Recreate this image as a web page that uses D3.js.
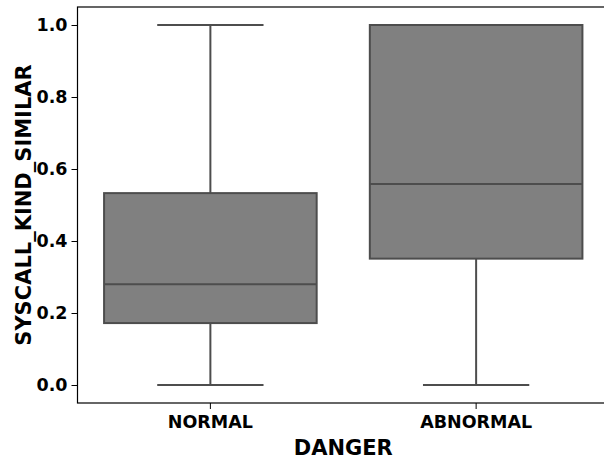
<!DOCTYPE html>
<html><head><meta charset="utf-8">
<script src="https://cdn.jsdelivr.net/npm/d3@7"></script>
<style>body{margin:0;background:#fff}svg{display:block}text{font-family:"DejaVu Sans",sans-serif;font-weight:bold}</style>
</head><body>
<script>
const categories = ["NORMAL", "ABNORMAL"];
const whiskerLow = [0.0, 0.0];
const q1 = [0.172, 0.351];
const median = [0.280, 0.558];
const q3 = [0.533, 1.0];
const whiskerHigh = [1.0, 1.0];
const yTicks = [0.0, 0.2, 0.4, 0.6, 0.8, 1.0];

const W = 604, H = 459;
const m = {left: 77.5, top: 7, right: 609, bottom: 403};
const svg = d3.select("body").append("svg").attr("width", W).attr("height", H);

const x = d3.scaleBand().domain(categories).range([m.left, m.right]).paddingInner(0).paddingOuter(0);
const y = d3.scaleLinear().domain([-0.05, 1.05]).range([m.bottom, m.top]);

const boxW = x.bandwidth() * 0.8;
const lineC = "#4d4d4d";
const data = categories.map((c, i) => ({c, lo: whiskerLow[i], q1: q1[i], med: median[i], q3: q3[i], hi: whiskerHigh[i]}));

const g = svg.append("g");
data.forEach(d => {
  const cx = x(d.c) + x.bandwidth() / 2;
  g.append("line").attr("x1", cx).attr("x2", cx).attr("y1", y(d.lo)).attr("y2", y(d.q1)).attr("stroke", lineC).attr("stroke-width", 2);
  g.append("line").attr("x1", cx).attr("x2", cx).attr("y1", y(d.q3)).attr("y2", y(d.hi)).attr("stroke", lineC).attr("stroke-width", 2);
  [d.lo, d.hi].forEach(v => {
    g.append("line").attr("x1", cx - boxW / 4).attr("x2", cx + boxW / 4).attr("y1", y(v)).attr("y2", y(v)).attr("stroke", lineC).attr("stroke-width", 2);
  });
  g.append("rect").attr("x", cx - boxW / 2).attr("width", boxW)
    .attr("y", y(d.q3)).attr("height", y(d.q1) - y(d.q3))
    .attr("fill", "#808080").attr("stroke", lineC).attr("stroke-width", 2);
  g.append("line").attr("x1", cx - boxW / 2).attr("x2", cx + boxW / 2).attr("y1", y(d.med)).attr("y2", y(d.med)).attr("stroke", lineC).attr("stroke-width", 2);
});

svg.append("rect").attr("x", m.left).attr("y", m.top).attr("width", m.right - m.left).attr("height", m.bottom - m.top)
  .attr("fill", "none").attr("stroke", "#000").attr("stroke-width", 1.2);

const ya = svg.append("g").attr("transform", `translate(${m.left},0)`)
  .call(d3.axisLeft(y).tickValues(yTicks).tickFormat(d3.format(".1f")).tickSize(6).tickPadding(4));
ya.select(".domain").remove();
ya.selectAll("text").style("font-size", "17.5px").attr("fill", "#000").style("font-family", "DejaVu Sans").style("font-weight", "bold");
ya.selectAll("line").attr("stroke", "#000");

const xa = svg.append("g").attr("transform", `translate(0,${m.bottom})`)
  .call(d3.axisBottom(x).tickSize(6).tickPadding(7));
xa.select(".domain").remove();
xa.selectAll("text").style("font-size", "17.5px").attr("fill", "#000").style("font-family", "DejaVu Sans").style("font-weight", "bold");
xa.selectAll("line").attr("stroke", "#000");

svg.append("text").attr("x", (m.left + m.right) / 2).attr("y", 455).attr("text-anchor", "middle")
  .style("font-size", "21px").text("DANGER");
svg.append("text").attr("transform", `translate(31,${(m.top + m.bottom) / 2}) rotate(-90)`).attr("text-anchor", "middle")
  .style("font-size", "21px").text("SYSCALL_KIND_SIMILAR");
</script>
</body></html>
